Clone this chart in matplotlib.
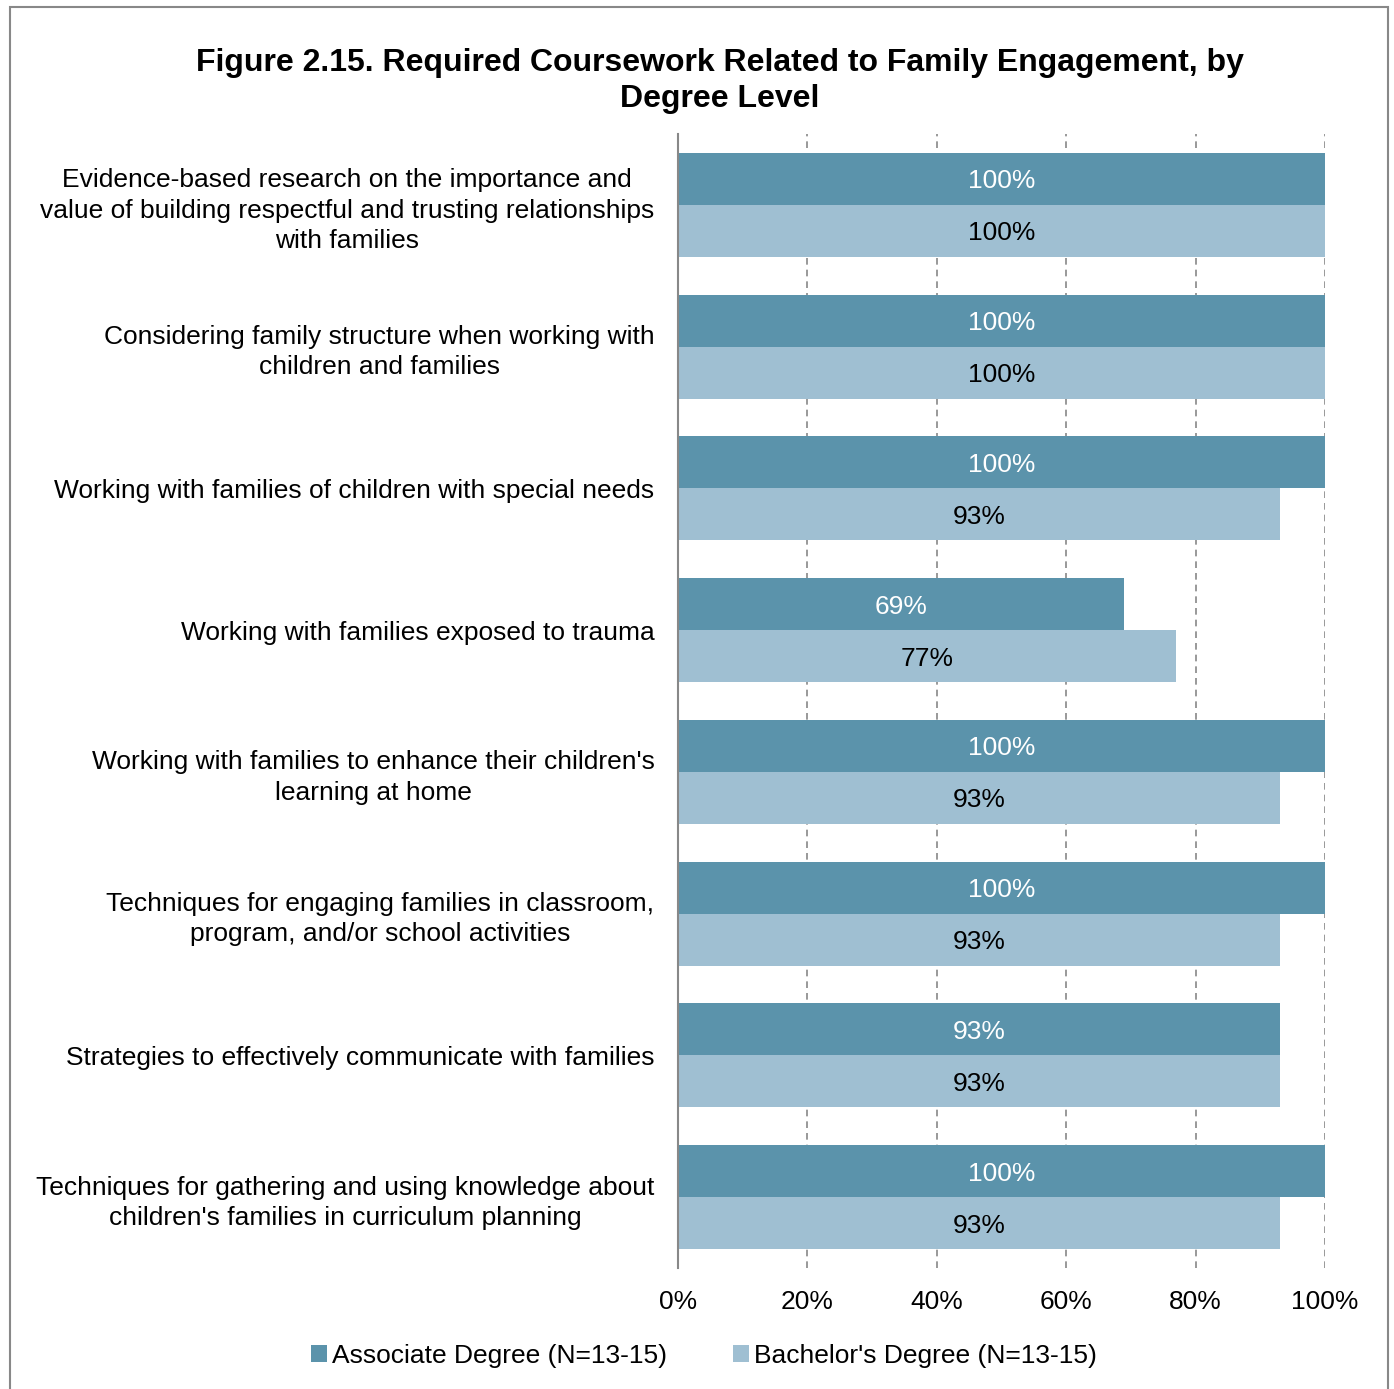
import matplotlib.pyplot as plt
import numpy as np
from matplotlib.patches import Rectangle

plt.rcParams["font.family"] = ["Liberation Sans", "DejaVu Sans"]

categories = [
    "Evidence-based research on the importance and\nvalue of building respectful and trusting relationships\nwith families",
    "Considering family structure when working with\nchildren and families",
    "Working with families of children with special needs",
    "Working with families exposed to trauma",
    "Working with families to enhance their children's\nlearning at home",
    "Techniques for engaging families in classroom,\nprogram, and/or school activities",
    "Strategies to effectively communicate with families",
    "Techniques for gathering and using knowledge about\nchildren's families in curriculum planning",
]
associate = [100, 100, 100, 69, 100, 100, 93, 100]
bachelor = [100, 100, 93, 77, 93, 93, 93, 93]
x_ticks = [0, 20, 40, 60, 80, 100]

dark_blue = "#5B93AB"
light_blue = "#9FBFD2"

fig = plt.figure(figsize=(13.94, 13.89), dpi=100)
ax = fig.add_axes([678 / 1394, 1 - 1268 / 1389, 647 / 1394, 1134 / 1389])

y = np.arange(len(categories))
h = 0.367
bars_a = ax.barh(y - h / 2, associate, height=h, color=dark_blue,
                 label="Associate Degree (N=13-15)", zorder=3)
bars_b = ax.barh(y + h / 2, bachelor, height=h, color=light_blue,
                 label="Bachelor's Degree (N=13-15)", zorder=3)

for bar, val in zip(bars_a, associate):
    ax.text(val / 2, bar.get_y() + bar.get_height() / 2, f"{val}%",
            ha="center", va="center_baseline", color="white", fontsize=19, zorder=4)
for bar, val in zip(bars_b, bachelor):
    ax.text(val / 2, bar.get_y() + bar.get_height() / 2, f"{val}%",
            ha="center", va="center_baseline", color="black", fontsize=19, zorder=4)

ax.set_xlim(0, 100)
ax.set_ylim(len(categories) - 0.5, -0.5)
ax.set_xticks(x_ticks)
ax.set_xticklabels([f"{t}%" for t in x_ticks], fontsize=19)
ax.set_yticks(y)
ax.set_yticklabels(categories, fontsize=19)
for lab in ax.get_yticklabels():
    lab.set_multialignment("center")
    lab.set_linespacing(1.33)
ax.tick_params(axis="both", length=0)
ax.tick_params(axis="x", pad=16)
ax.tick_params(axis="y", pad=17)

ax.grid(axis="x", color="#888888", linestyle=(0, (4, 3)), linewidth=1.2, zorder=1)
for side in ["top", "right", "bottom"]:
    ax.spines[side].set_visible(False)
ax.spines["left"].set_color("#888888")
ax.spines["left"].set_linewidth(1.5)
ax.spines["left"].set_zorder(5)

fig.text(720 / 1394, 1 - 81 / 1389,
         "Figure 2.15. Required Coursework Related to Family Engagement, by\nDegree Level",
         ha="center", va="center", fontsize=23, fontweight="bold", linespacing=1.25)

fig.legend(loc="center", bbox_to_anchor=(704 / 1394, 1 - 1356 / 1389), ncol=2,
           frameon=False, fontsize=19, handlelength=0.6, handleheight=0.6,
           handletextpad=0.2, columnspacing=2.5)

fig.patches.append(Rectangle((10 / 1394, -0.01), 1378 / 1394, 1 - 7 / 1389 + 0.01,
                             transform=fig.transFigure, fill=False,
                             edgecolor="#888888", linewidth=1.5))

fig.savefig("out.png", dpi=100)
